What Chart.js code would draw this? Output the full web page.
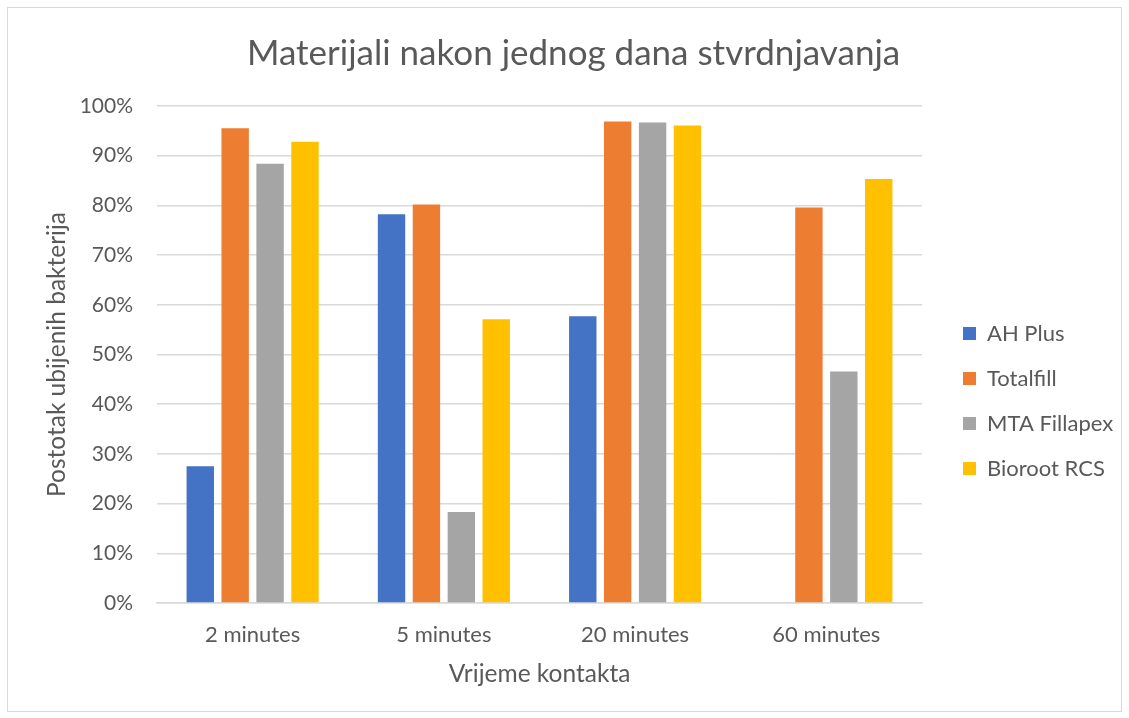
<!DOCTYPE html>
<html>
<head>
<meta charset="utf-8">
<script src="https://cdn.jsdelivr.net/npm/chart.js@4.4.1/dist/chart.umd.min.js"></script>
<style>
  html, body { margin: 0; padding: 0; background: #fff; }
  #wrap { position: relative; width: 1129px; height: 718px; }
  #frame { position: absolute; left: 7px; top: 7px; width: 1113px; height: 703px; border: 1px solid #d9d9d9; }
  #chart { position: absolute; left: 0; top: 0; }
</style>
</head>
<body>
<div id="wrap">
  <div id="frame"></div>
  <canvas id="chart" width="1129" height="718"></canvas>
</div>
<script>
'use strict';

/* ── Data (percent of killed bacteria) ── */
const categories = ['2 minutes', '5 minutes', '20 minutes', '60 minutes'];
const seriesNames = ['AH Plus', 'Totalfill', 'MTA Fillapex', 'Bioroot RCS'];
const ahPlus    = [27.5, 78.2, 57.7, 0];
const totalfill = [95.5, 80.2, 96.9, 79.6];
const mta       = [88.4, 18.3, 96.7, 46.6];
const bioroot   = [92.8, 57.1, 96.1, 85.3];
const yTicks    = [0, 10, 20, 30, 40, 50, 60, 70, 80, 90, 100];

const colors = ['#4472C4', '#ED7D31', '#A5A5A5', '#FFC000'];
const textColor = '#595959';
const font = 'Lato';
const legendSize = 22;

// legend sits at x~965, so the right padding depends on the widest label
const mctx = document.createElement('canvas').getContext('2d');
mctx.font = legendSize + 'px ' + font;
const widest = Math.max(...seriesNames.map(n => mctx.measureText(n).width));
const padRight = Math.max(0, 1129 - 965 - (13 + legendSize / 2 + widest) - 8);

const datasets = [ahPlus, totalfill, mta, bioroot].map((vals, i) => ({
  label: seriesNames[i],
  data: vals,
  backgroundColor: colors[i],
  borderWidth: 0,
  categoryPercentage: 0.73,
  barPercentage: 0.785,
}));

new Chart(document.getElementById('chart'), {
  type: 'bar',
  data: { labels: categories, datasets },
  options: {
    responsive: false,
    animation: false,
    layout: { padding: { left: 24, right: padRight, top: 20, bottom: 22 } },
    plugins: {
      title: {
        display: true,
        text: 'Materijali nakon jednog dana stvrdnjavanja',
        color: textColor,
        font: { family: font, size: 35, weight: 'normal' },
        padding: { top: 13, bottom: 31 }
      },
      legend: {
        position: 'right',
        title: { display: true, text: '', font: { size: 10 }, padding: { top: 37, bottom: 37 } },
        labels: {
          color: textColor,
          font: { family: font, size: legendSize },
          boxWidth: 13,
          boxHeight: 13,
          padding: 23
        }
      },
      tooltip: { enabled: false }
    },
    scales: {
      x: {
        afterFit: s => { s.height = 93; },
        grid: { display: false, drawTicks: false },
        border: { color: '#d9d9d9', width: 1.5 },
        ticks: { color: textColor, font: { family: font, size: 22 }, padding: 19 },
        title: {
          display: true,
          text: 'Vrijeme kontakta',
          color: textColor,
          font: { family: font, size: 24.5 },
          padding: { top: 11, bottom: 7 }
        }
      },
      y: {
        min: 0,
        max: 100,
        afterBuildTicks: s => { s.ticks = yTicks.map(v => ({ value: v })); },
        afterFit: s => { s.width = 133; },
        grid: { color: '#d9d9d9', lineWidth: 1.5, drawTicks: false },
        border: { display: false },
        ticks: {
          color: textColor,
          font: { family: font, size: 21 },
          padding: 24,
          callback: v => v + '%'
        },
        title: {
          display: true,
          text: 'Postotak ubijenih bakterija',
          color: textColor,
          font: { family: font, size: 24.5 },
          padding: { top: 18, bottom: 0 }
        }
      },
      // empty spacer between plot and legend
      gap: {
        type: 'linear',
        position: 'right',
        grid: { display: false, drawTicks: false },
        border: { display: false },
        ticks: { display: false },
        afterFit: s => { s.width = 18; }
      }
    }
  }
});
</script>
</body>
</html>
